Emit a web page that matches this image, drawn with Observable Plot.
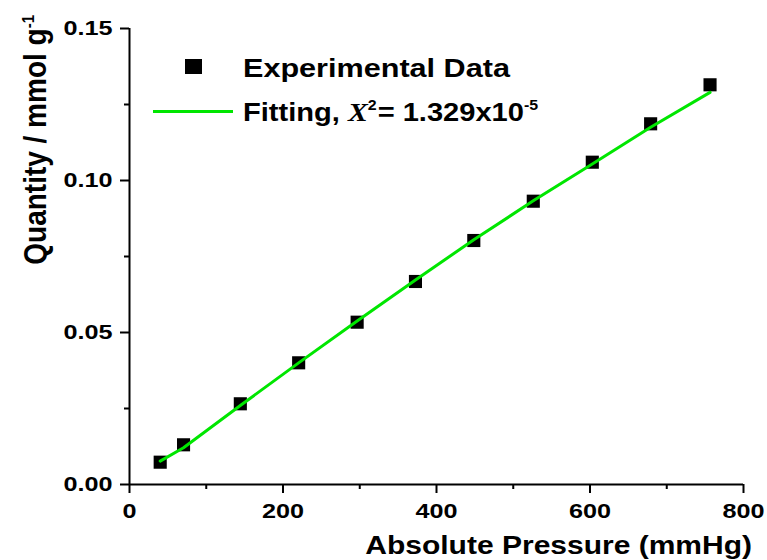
<!DOCTYPE html>
<html>
<head>
<meta charset="utf-8">
<script src="https://cdn.jsdelivr.net/npm/d3@7"></script>
<script src="https://cdn.jsdelivr.net/npm/@observablehq/plot@0.6"></script>
<style>
  html, body { margin: 0; padding: 0; background: #fff; }
  #wrap { position: relative; width: 767px; height: 560px; }
</style>
</head>
<body>
<div id="wrap"></div>
<script>
// Data
const pressure = [40.0, 70.4, 144.4, 220.4, 296.6, 372.6, 448.6, 526.1, 603.0, 679.0, 756.4];
const quantity = [0.00734, 0.01306, 0.02655, 0.04003, 0.05339, 0.06678, 0.08026, 0.09319, 0.10602, 0.11865, 0.13148];
const fitted   = [0.0077, 0.0121, 0.0260, 0.0400, 0.0538, 0.0673, 0.0805, 0.0933, 0.1054, 0.1175, 0.1290];
const xTicks = [0, 200, 400, 600, 800];
const xMinor = [100, 300, 500, 700];
const yTicks = [0, 0.05, 0.10, 0.15];
const yMinor = [0.025, 0.075, 0.125];
const xTitle = "Absolute Pressure (mmHg)";
const yTitle = "Quantity / mmol g";
const yTitleExp = "-1";
const legendData = "Experimental Data";
const legendFit = "Fitting, ";
const chiSymbol = "X";
const chiValue = "= 1.329x10";
const chiExp = "-5";

const pts = pressure.map((p, i) => ({x: p, y: quantity[i]}));
const fit = pressure.map((p, i) => ({x: p, y: fitted[i]}));
const green = "#00e600";
const FONT = "Liberation Sans, Arial, sans-serif";
const STRETCH = 1.2;

const chart = Plot.plot({
  width: 767,
  height: 560,
  marginLeft: 129,
  marginRight: 24,
  marginTop: 28,
  marginBottom: 76,
  style: {fontFamily: FONT, fontWeight: "bold", fontSize: "21px", color: "#000", background: "#fff"},
  x: {domain: [0, 800]},
  y: {domain: [0, 0.15]},
  marks: [
    Plot.axisX({ticks: xMinor, tickSize: 5, tickFormat: () => "", strokeWidth: 2, label: null}),
    Plot.axisX({ticks: xTicks, tickSize: 9, tickPadding: 10, strokeWidth: 2, fontSize: 21, fontWeight: "bold", label: null}),
    Plot.axisY({ticks: yMinor, tickSize: 5, tickFormat: () => "", strokeWidth: 2, label: null}),
    Plot.axisY({ticks: yTicks, tickSize: 9, tickPadding: 8, strokeWidth: 2, tickFormat: d3.format(".2f"), fontSize: 21, fontWeight: "bold", label: null}),
    Plot.ruleY([0], {strokeWidth: 2}),
    Plot.ruleX([0], {strokeWidth: 2}),
    Plot.dot(pts, {x: "x", y: "y", symbol: "square", r: 7.4, fill: "#000", stroke: "none"}),
    Plot.line(fit, {x: "x", y: "y", stroke: green, strokeWidth: 3})
  ]
});

const wrap = document.getElementById("wrap");
wrap.appendChild(chart);
const svg = d3.select(chart);

// the reference glyphs are horizontally stretched: widen tick labels
svg.selectAll('g[aria-label$="tick label"] text').each(function() {
  const len = this.getComputedTextLength();
  if (len > 0) {
    this.setAttribute("textLength", len * STRETCH);
    this.setAttribute("lengthAdjust", "spacingAndGlyphs");
  }
});

// x axis title
svg.append("g")
  .attr("transform", `translate(752,554) scale(${STRETCH},1)`)
  .append("text")
  .attr("text-anchor", "end")
  .attr("font-size", 25).attr("font-weight", "bold").attr("font-family", FONT)
  .text(xTitle);

// y axis title
const yl = svg.append("g")
  .attr("transform", "translate(46,15) scale(1.12,1) rotate(-90)")
  .append("text")
  .attr("text-anchor", "end")
  .attr("font-size", 28).attr("font-weight", "bold").attr("font-family", FONT);
yl.append("tspan").text(yTitle);
yl.append("tspan").attr("font-size", 15).attr("dy", -11).text(yTitleExp);

// legend
const lg = svg.append("g").attr("aria-label", "legend").attr("text-anchor", "start");
lg.append("rect").attr("x", 185).attr("y", 59).attr("width", 17).attr("height", 15).attr("fill", "#000");
lg.append("line").attr("x1", 153).attr("x2", 233).attr("y1", 111.5).attr("y2", 111.5)
  .attr("stroke", green).attr("stroke-width", 3);
lg.append("g").attr("transform", `translate(243,77) scale(${STRETCH},1)`)
  .append("text").attr("text-anchor", "start").attr("font-size", 25.5).attr("font-weight", "bold").attr("font-family", FONT)
  .text(legendData);
const t2 = lg.append("g").attr("transform", `translate(243,121) scale(1.14,1)`)
  .append("text").attr("text-anchor", "start").attr("font-size", 25.5).attr("font-weight", "bold").attr("font-family", FONT);
t2.append("tspan").text(legendFit);
t2.append("tspan").attr("font-family", "Liberation Serif, Times New Roman, serif").attr("font-style", "italic")
  .attr("font-size", 26).text(chiSymbol);
t2.append("tspan").attr("font-size", 14).attr("dy", -11).attr("dx", 0).text("2");
t2.append("tspan").attr("dy", 11).attr("dx", 1).text(chiValue);
t2.append("tspan").attr("font-size", 14).attr("dy", -11).text(chiExp);
</script>
</body>
</html>
